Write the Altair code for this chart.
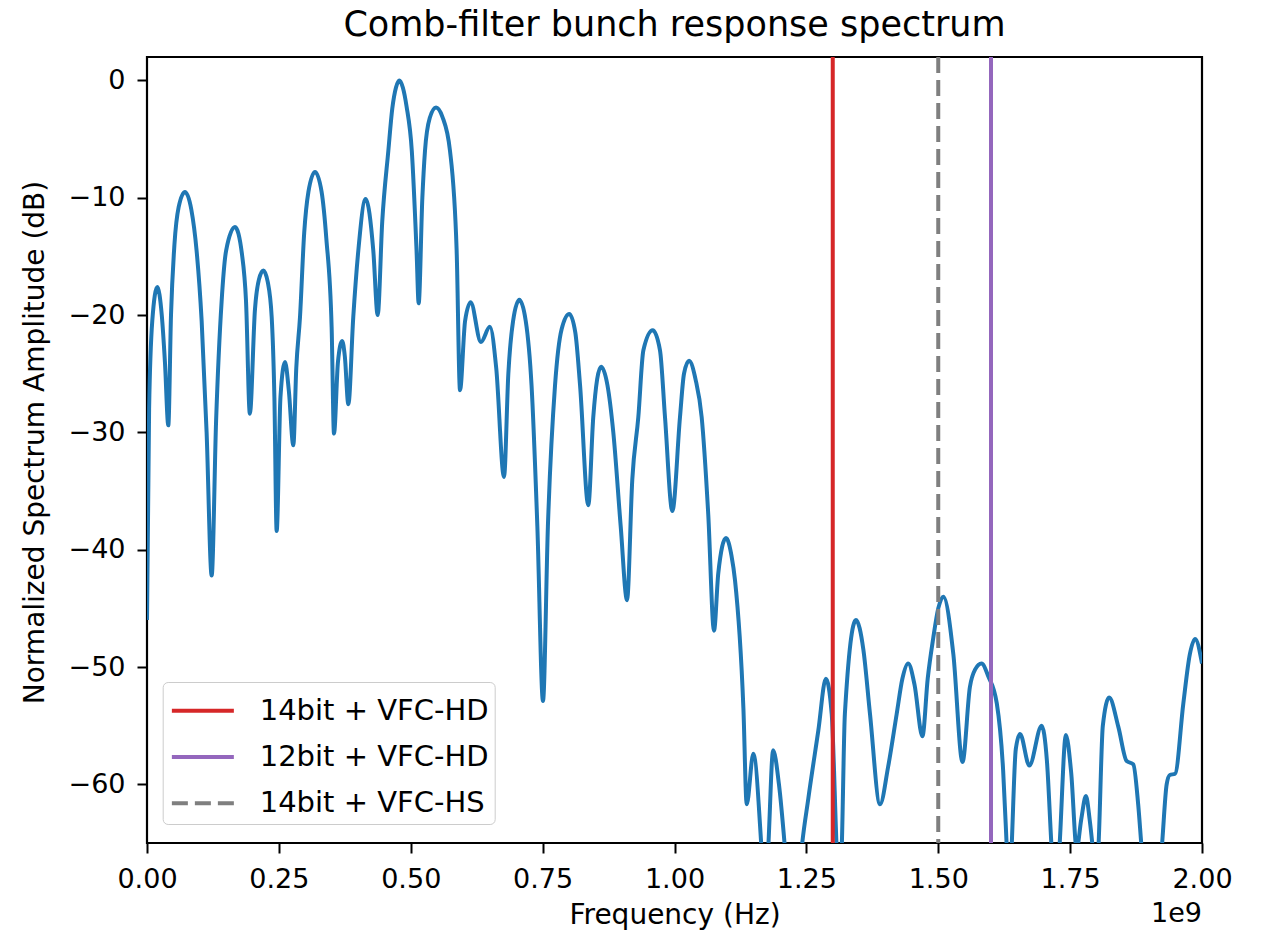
import altair as alt
import pandas as pd

# ---- data (frequency in units of 1e9 Hz, amplitude in dB)
freq_ghz = [
    0.000, 0.004, 0.010, 0.0195, 0.028, 0.034, 0.0404, 0.0455, 0.052, 0.060,
    0.072, 0.084, 0.094, 0.1036, 0.113, 0.1226, 0.131, 0.1415, 0.150, 0.1668,
    0.180, 0.1877, 0.195, 0.2047, 0.212, 0.2205, 0.229, 0.2364, 0.2415, 0.2458,
    0.2530, 0.2616, 0.2690, 0.2774, 0.283, 0.290, 0.298, 0.306, 0.3185, 0.331,
    0.340, 0.350, 0.3545, 0.362, 0.370, 0.375, 0.3817, 0.391, 0.4006, 0.4145,
    0.429, 0.4373, 0.446, 0.4575, 0.465, 0.472, 0.4783, 0.485, 0.492, 0.502,
    0.511, 0.515,
    0.522, 0.527, 0.536, 0.5479, 0.560, 0.5744, 0.587, 0.5934, 0.603, 0.6136,
    0.633, 0.650, 0.662, 0.6768, 0.685, 0.694, 0.7058, 0.718, 0.729, 0.740,
    0.7507, 0.760, 0.7735, 0.786, 0.8006, 0.812, 0.821, 0.8366, 0.846, 0.8607,
    0.873, 0.884, 0.898, 0.910, 0.920, 0.9314, 0.941, 0.9587, 0.9725, 0.982,
    0.9959, 1.0104, 1.018, 1.0275, 1.040, 1.0515, 1.064, 1.0749, 1.083, 1.0976,
    1.108, 1.1147, 1.1306, 1.1369, 1.1494, 1.165, 1.171, 1.1776, 1.187, 1.198,
    1.2095, 1.225, 1.241, 1.2537, 1.2727, 1.287, 1.298, 1.3074, 1.312, 1.317,
    1.323, 1.344, 1.358, 1.3706, 1.3896, 1.405, 1.4212, 1.432, 1.443, 1.455,
    1.470, 1.480, 1.4906, 1.500, 1.5097, 1.5286, 1.546, 1.560, 1.570, 1.582,
    1.595, 1.611, 1.623, 1.630, 1.6345, 1.639, 1.647, 1.655, 1.6727, 1.696,
    1.706, 1.715, 1.722, 1.7296, 1.742, 1.752, 1.7625, 1.771, 1.780, 1.787,
    1.793, 1.798, 1.8035, 1.812, 1.824, 1.8414, 1.857, 1.8698, 1.879, 1.8857,
    1.905, 1.9236, 1.933, 1.939, 1.949, 1.9646, 1.977, 1.987, 2.000,
]
amp_db = [
    -46, -28, -20.5, -17.6, -20, -24, -29.4, -20.0, -14.0, -10.8,
    -9.5, -11.0, -14.5, -20.5, -30, -42.2, -29, -18.8, -14.5, -12.5,
    -14.8, -18.8, -28.4, -19.5, -17.0, -16.2, -17.2, -20.2, -27, -38.4,
    -27, -24.0, -26.5, -31.1, -24.5, -20.2, -13, -9.5, -7.8, -9.5,
    -13.5, -21, -30.1, -24, -22.2, -23.5, -27.6, -20.2, -14.5, -10.1,
    -14.5, -20.0, -12, -6.0, -2.4, -0.6, 0.0, -0.6, -2.2, -6.0,
    -14.5, -19.0,
    -10, -6.0, -3.2, -2.3, -3.1, -6.0, -14.5, -26.4, -20.5, -18.9,
    -22.3, -21.0, -24.5, -33.8, -25.0, -20.5, -18.7, -20.5, -26, -38,
    -52.9, -38, -26, -21.2, -19.9, -21.5, -26, -36.2, -28.7, -24.4,
    -26, -30, -38, -44.3, -34, -28.7, -23.0, -21.3, -23.0, -28.7,
    -36.7, -28.7, -25, -23.9, -25.5, -28.7, -37, -46.9, -42, -39.0,
    -40.5, -42.6, -53.5, -61.7, -57.4, -65.5, -70, -65.5, -57.1, -60,
    -65.5, -75, -65.5, -61.2, -55.4, -51.0, -54, -65.5, -70, -65.5,
    -54, -46.0, -48.5, -54.0, -61.7, -58.5, -54, -51, -49.7, -51.5,
    -55.9, -51.0, -47.5, -45, -44.0, -48.9, -58.1, -51.7, -50.2, -49.7,
    -50.8, -53.1, -58.8, -65.5, -70, -65.5, -57, -55.7, -58.4, -55.0,
    -58, -65.5, -70, -65.5, -55.8, -59, -65.5, -63, -61.0, -63,
    -65.5, -68, -65.5, -55, -52.6, -55.1, -58.0, -58.3, -61.7, -65.5,
    -72, -65.5, -60, -59.2, -59.1, -53.1, -48.9, -47.6, -49.7,
]

marker_labels = ["14bit + VFC-HD", "12bit + VFC-HD", "14bit + VFC-HS"]
marker_freq_ghz = [1.3, 1.6, 1.5]
marker_colors = ["#d62728", "#9467bd", "#7f7f7f"]
marker_dashes = [[1, 0], [1, 0], [16, 7]]

x_ticks_ghz = [0.0, 0.25, 0.5, 0.75, 1.0, 1.25, 1.5, 1.75, 2.0]
y_ticks = [-60, -50, -40, -30, -20, -10, 0]
offset_text = ["1e9"]

title_text = "Comb-filter bunch response spectrum"
x_title = "Frequency (Hz)"
y_title = "Normalized Spectrum Amplitude (dB)"

FONT = "DejaVu Sans"
W, H = 1055, 786

spec_df = pd.DataFrame({"freq": [f * 1e9 for f in freq_ghz], "amp": amp_db})
mark_df = pd.DataFrame({"label": marker_labels, "freq": [f * 1e9 for f in marker_freq_ghz]})
off_df = pd.DataFrame({"t": offset_text})

x_scale = alt.Scale(domain=[0, 2e9], nice=False, zero=False)
y_scale = alt.Scale(domain=[-65, 2], nice=False, zero=False)

x_axis = alt.Axis(
    values=[v * 1e9 for v in x_ticks_ghz],
    labelExpr="format(datum.value / 1e9, '.2f')",
    title=x_title,
    grid=False, domain=False,
    tickSize=10, tickWidth=2, tickColor="black",
    labelFontSize=27, labelFont=FONT, labelColor="black", labelPadding=13,
    labelFlush=False, labelOverlap=False,
    titleFontSize=28, titleFont=FONT, titleColor="black", titleFontWeight="normal",
    titleX=W / 2, titleY=80, titleBaseline="alphabetic", titleAnchor="middle",
)
y_axis = alt.Axis(
    values=y_ticks,
    format="d",
    title=y_title,
    grid=False, domain=False,
    tickSize=10, tickWidth=2, tickColor="black",
    labelFontSize=27, labelFont=FONT, labelColor="black", labelPadding=12,
    labelOverlap=False,
    titleFontSize=28, titleFont=FONT, titleColor="black", titleFontWeight="normal",
    titleX=-104, titleY=H / 2 - 8, titleBaseline="alphabetic", titleAlign="center",
)

spectrum = alt.Chart(spec_df).mark_line(
    color="#1f77b4", strokeWidth=4, clip=True, interpolate="monotone"
).encode(
    x=alt.X("freq:Q", scale=x_scale, axis=x_axis),
    y=alt.Y("amp:Q", scale=y_scale, axis=y_axis),
)

legend = alt.Legend(
    title=None, orient="none", legendX=15.7, legendY=625,
    symbolType="M-0.95,0H2.05", symbolSize=1708, symbolStrokeWidth=4,
    labelFontSize=29, labelFont=FONT, labelColor="black",
    labelOffset=45.2, labelLimit=400,
    padding=5.8, rowPadding=8.2,
    fillColor="rgba(255,255,255,0.8)", strokeColor="#cccccc", cornerRadius=5,
)

rules = alt.Chart(mark_df).mark_rule(strokeWidth=4).encode(
    x=alt.X("freq:Q", scale=x_scale),
    color=alt.Color("label:N", sort=marker_labels,
                    scale=alt.Scale(domain=marker_labels, range=marker_colors),
                    legend=legend),
    strokeDash=alt.StrokeDash("label:N", sort=marker_labels,
                              scale=alt.Scale(domain=marker_labels, range=marker_dashes),
                              legend=legend),
)

offset_label = alt.Chart(off_df).mark_text(
    align="right", baseline="alphabetic", fontSize=27, font=FONT, color="black"
).encode(
    x=alt.value(W), y=alt.value(H + 79), text="t:N"
)

chart = alt.layer(spectrum, rules, offset_label).properties(
    width=W, height=H,
    title=alt.TitleParams(title_text, fontSize=35, font=FONT, fontWeight="normal",
                          color="black", anchor="middle", frame="group",
                          offset=-16, baseline="alphabetic"),
    autosize=alt.AutoSizeParams(type="none"),
    padding={"left": 147, "top": 57, "right": 61, "bottom": 91},
).configure(
    background="white", font=FONT
).configure_view(
    stroke="black", strokeWidth=2.2
)

chart.save("out.html", embed_options={"renderer": "svg", "actions": False})
